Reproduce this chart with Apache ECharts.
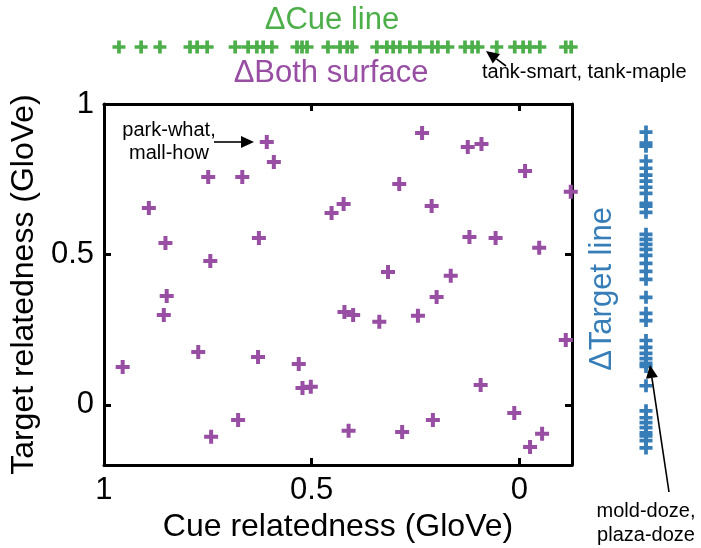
<!DOCTYPE html>
<html>
<head>
<meta charset="utf-8">
<script src="https://cdn.jsdelivr.net/npm/echarts@6/dist/echarts.min.js"></script>
<style>
html,body{margin:0;padding:0;background:#fff;}
#chart{width:701px;height:548px;}
</style>
</head>
<body>
<div id="chart"></div>
<script>
// Purple points: [cue relatedness, target relatedness]
var bothCue = [0.608,0.591,0.749,0.667,0.892,0.852,0.627,0.744,0.452,0.423,0.234,0.124,0.091,-0.014,-0.124,0.289,0.211,0.120,0.057,-0.048,0.316,0.165,0.849,0.856,0.955,0.773,0.629,0.531,0.522,0.502,0.677,0.742,0.199,0.421,0.400,0.337,0.244,-0.112,0.093,0.012,0.411,0.282,0.208,-0.055,-0.026];
var bothTarget = [0.874,0.807,0.757,0.757,0.654,0.538,0.555,0.478,0.638,0.668,0.904,0.857,0.867,0.777,0.708,0.734,0.661,0.558,0.555,0.522,0.442,0.429,0.362,0.299,0.126,0.176,0.159,0.136,0.056,0.060,-0.050,-0.106,0.359,0.309,0.299,0.276,0.296,0.216,0.066,-0.027,-0.086,-0.090,-0.050,-0.096,-0.140];
// Green strip: cue relatedness values
var cueLine = [0.957,0.904,0.859,0.787,0.770,0.746,0.679,0.648,0.627,0.612,0.591,0.531,0.519,0.507,0.457,0.428,0.411,0.399,0.340,0.316,0.301,0.285,0.261,0.237,0.208,0.194,0.170,0.129,0.112,0.098,0.053,0.010,-0.010,-0.026,-0.050,-0.112,-0.125];
// Blue strip: target relatedness values
var targetLine = [0.907,0.870,0.860,0.811,0.787,0.764,0.744,0.724,0.704,0.671,0.661,0.641,0.568,0.551,0.535,0.518,0.498,0.472,0.445,0.419,0.359,0.306,0.282,0.216,0.193,0.173,0.156,0.140,0.130,0.066,-0.017,-0.040,-0.056,-0.073,-0.090,-0.100,-0.116,-0.140];
var tickValues = [0, 0.5, 1];

var PURPLE = '#984ea3', GREEN = '#4daf4a', BLUE = '#377eb8';
var FONT = 'Liberation Sans, Arial, sans-serif';
var PLUS = 'path://M5,0H9V5H14V9H9V14H5V9H0V5H5Z';

var chart = echarts.init(document.getElementById('chart'), null, {renderer:'canvas'});

var axisLineStyle = {onZero:false, lineStyle:{color:'#000', width:3}};
var tickStyle = {show:true, inside:true, length:7, lineStyle:{color:'#000', width:3}, customValues: tickValues};

function arrow(x1,y1,x2,y2){
  var ang = Math.atan2(y2-y1, x2-x1);
  var L = 13, W = 6;
  var bx = x2 - L*Math.cos(ang), by = y2 - L*Math.sin(ang);
  var px = -Math.sin(ang)*W, py = Math.cos(ang)*W;
  return [
    {type:'line', shape:{x1:x1,y1:y1,x2:bx,y2:by}, style:{stroke:'#000', lineWidth:1.6}, z:100},
    {type:'polygon', shape:{points:[[x2,y2],[bx+px,by+py],[bx-px,by-py]]}, style:{fill:'#000'}, z:100}
  ];
}

var graphics = [
  {type:'text', x:332, y:20, style:{text:'ΔCue line', font:'31px '+FONT, fill:GREEN, textAlign:'center', textVerticalAlign:'middle'}},
  {type:'text', x:331, y:73, style:{text:'ΔBoth surface', font:'31px '+FONT, fill:PURPLE, textAlign:'center', textVerticalAlign:'middle'}},
  {type:'text', x:482, y:72, style:{text:'tank-smart, tank-maple', font:'20px '+FONT, fill:'#000', textAlign:'left', textVerticalAlign:'middle'}},
  {type:'text', x:169, y:130, style:{text:'park-what,', font:'20px '+FONT, fill:'#000', textAlign:'center', textVerticalAlign:'middle'}},
  {type:'text', x:169, y:153, style:{text:'mall-how', font:'20px '+FONT, fill:'#000', textAlign:'center', textVerticalAlign:'middle'}},
  {type:'text', x:602, y:289, rotation:Math.PI/2, style:{text:'ΔTarget line', font:'31px '+FONT, fill:BLUE, textAlign:'center', textVerticalAlign:'middle'}},
  {type:'text', x:646, y:511, style:{text:'mold-doze,', font:'20px '+FONT, fill:'#000', textAlign:'center', textVerticalAlign:'middle'}},
  {type:'text', x:646, y:535, style:{text:'plaza-doze', font:'20px '+FONT, fill:'#000', textAlign:'center', textVerticalAlign:'middle'}}
].concat(arrow(214,142,254,142)).concat(arrow(506,66,486,51)).concat(arrow(669,492,650,365));

var option = {
  backgroundColor:'#fff',
  animation:false,
  textStyle:{fontFamily:FONT},
  grid:[
    {left:101, top:104, right:129, bottom:82},
    {left:101, top:38, right:129, height:18},
    {left:637, top:104, width:18, bottom:82}
  ],
  xAxis:[
    {gridIndex:0, type:'value', min:-0.127, max:1, inverse:true, position:'bottom',
     axisLine:axisLineStyle, axisTick:tickStyle, splitLine:{show:false},
     axisLabel:{show:true, customValues:tickValues, fontSize:31, color:'#000', margin:10, fontFamily:FONT,
       formatter:function(v){return String(v);}},
     name:'Cue relatedness (GloVe)', nameLocation:'middle', nameGap:44,
     nameTextStyle:{fontSize:32, color:'#000', fontFamily:FONT}},
    {gridIndex:0, type:'value', min:-0.127, max:1, inverse:true, position:'top',
     axisLine:axisLineStyle, axisTick:tickStyle, axisLabel:{show:false}, splitLine:{show:false}},
    {gridIndex:1, type:'value', min:-0.127, max:1, inverse:true, show:false},
    {gridIndex:2, type:'value', min:-1, max:1, show:false}
  ],
  yAxis:[
    {gridIndex:0, type:'value', min:-0.2, max:1, position:'left',
     axisLine:axisLineStyle, axisTick:tickStyle, splitLine:{show:false},
     axisLabel:{show:true, customValues:tickValues, fontSize:31, color:'#000', margin:10, fontFamily:FONT,
       formatter:function(v){return String(v);}},
     name:'Target relatedness (GloVe)', nameLocation:'middle', nameGap:48, nameRotate:90,
     nameTextStyle:{fontSize:32, color:'#000', fontFamily:FONT}},
    {gridIndex:0, type:'value', min:-0.2, max:1, position:'right',
     axisLine:axisLineStyle, axisTick:tickStyle, axisLabel:{show:false}, splitLine:{show:false}},
    {gridIndex:1, type:'value', min:-1, max:1, show:false},
    {gridIndex:2, type:'value', min:-0.2, max:1, show:false}
  ],
  series:[
    {type:'scatter', name:'ΔBoth surface', xAxisIndex:0, yAxisIndex:0, clip:false,
     symbol:PLUS, symbolSize:14, itemStyle:{color:PURPLE, opacity:1},
     data: bothCue.map(function(c,i){return [c, bothTarget[i]];})},
    {type:'scatter', name:'ΔCue line', xAxisIndex:2, yAxisIndex:2, clip:false,
     symbol:PLUS, symbolSize:13, itemStyle:{color:GREEN, opacity:1},
     data: cueLine.map(function(c){return [c, 0];})},
    {type:'scatter', name:'ΔTarget line', xAxisIndex:3, yAxisIndex:3, clip:false,
     symbol:PLUS, symbolSize:13, itemStyle:{color:BLUE, opacity:1},
     data: targetLine.map(function(t){return [0, t];})}
  ],
  graphic: graphics
};
chart.setOption(option);
</script>
</body>
</html>
